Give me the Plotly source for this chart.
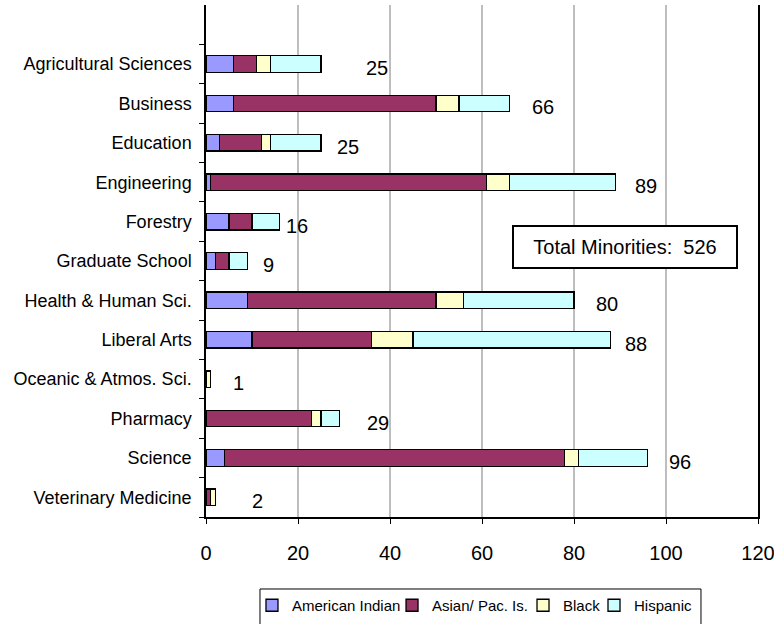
import plotly.graph_objects as go

categories = ["Agricultural Sciences", "Business", "Education", "Engineering", "Forestry",
              "Graduate School", "Health & Human Sci.", "Liberal Arts", "Oceanic & Atmos. Sci.",
              "Pharmacy", "Science", "Veterinary Medicine"]
american_indian = [6, 6, 3, 1, 5, 2, 9, 10, 0, 0, 4, 0]
asian_pac = [5, 44, 9, 60, 5, 3, 41, 26, 0, 23, 74, 1]
black = [3, 5, 2, 5, 0, 0, 6, 9, 1, 2, 3, 1]
hispanic = [11, 11, 11, 23, 6, 4, 24, 43, 0, 4, 15, 0]
totals = [25, 66, 25, 89, 16, 9, 80, 88, 1, 29, 96, 2]
label_offset = [12.2, 7.2, 5.9, 6.7, 3.7, 4.6, 7.2, 5.4, 6.1, 8.3, 7.0, 9.3]
total_minorities = 526
x_ticks = [0, 20, 40, 60, 80, 100, 120]

series = [
    ("American Indian", american_indian, "#9999FF"),
    ("Asian/ Pac. Is.", asian_pac, "#993366"),
    ("Black", black, "#FFFFCC"),
    ("Hispanic", hispanic, "#CCFFFF"),
]
# one legend per series so entries can sit like the original's compact legend
legend_x = [0.0833, 0.3370, 0.5743, 0.7029]
legend_ids = ["legend", "legend2", "legend3", "legend4"]

FONT = "Liberation Sans, Arial, sans-serif"

fig = go.Figure()
for (name, vals, color), lid in zip(series, legend_ids):
    fig.add_trace(go.Bar(
        y=categories, x=vals, name=name, orientation="h",
        marker=dict(color=color, line=dict(color="black", width=1.3)),
        width=0.42, legend=lid,
    ))

for cat, tot, off in zip(categories, totals, label_offset):
    fig.add_annotation(x=tot + off, y=cat, text=str(tot), showarrow=False,
                       xanchor="center", yanchor="middle", yshift=-4,
                       font=dict(family=FONT, size=20, color="black"))

fig.add_annotation(xref="paper", yref="paper", x=0.759, y=0.528,
                   text="Total Minorities:  " + str(total_minorities), showarrow=False,
                   xanchor="center", yanchor="middle",
                   font=dict(family=FONT, size=20, color="black"),
                   bgcolor="white", bordercolor="black", borderwidth=2,
                   width=220, height=38, borderpad=1)

# legend frame
fig.add_shape(type="rect", xref="paper", yref="paper",
              x0=0.0978, x1=0.8967, y0=-0.2207, y1=-0.1406,
              line=dict(color="black", width=1), fillcolor="rgba(0,0,0,0)")

legend_common = dict(orientation="h", xanchor="left", y=-0.1406, yanchor="top",
                     borderwidth=0, bgcolor="rgba(0,0,0,0)",
                     font=dict(family=FONT, size=15, color="black"), itemwidth=30)

fig.update_layout(
    width=774, height=624,
    margin=dict(l=206, r=16, t=5, b=107, autoexpand=False),
    paper_bgcolor="white", plot_bgcolor="white",
    barmode="stack", bargap=0.58,
    font=dict(family=FONT, color="black"),
    showlegend=True,
    legend=dict(x=legend_x[0], **legend_common),
    legend2=dict(x=legend_x[1], **legend_common),
    legend3=dict(x=legend_x[2], **legend_common),
    legend4=dict(x=legend_x[3], **legend_common),
    xaxis=dict(range=[0, 120], tickvals=x_ticks, ticktext=[str(t) for t in x_ticks],
               showgrid=True, gridcolor="#BEBEBE", gridwidth=1.5,
               showline=True, linecolor="black", linewidth=1.5,
               ticks="outside", ticklen=5, tickcolor="black",
               tickfont=dict(family=FONT, size=20, color="black"),
               ticklabelstandoff=12, automargin=False, ticklabeloverflow="allow",
               zeroline=False, fixedrange=True),
    yaxis=dict(type="category", categoryorder="array", categoryarray=categories[::-1],
               range=[-0.5, 12.5], tickson="boundaries",
               showline=True, linecolor="black", linewidth=1.5, mirror=True,
               ticks="outside", ticklen=5, tickcolor="black",
               tickfont=dict(family=FONT, size=18, color="black"),
               showgrid=False, fixedrange=True, ticklabelstandoff=9, automargin=False),
)

fig.write_html("out.html", config={"displayModeBar": False},
               post_script="document.body.style.margin='0';document.body.style.overflow='hidden';")
